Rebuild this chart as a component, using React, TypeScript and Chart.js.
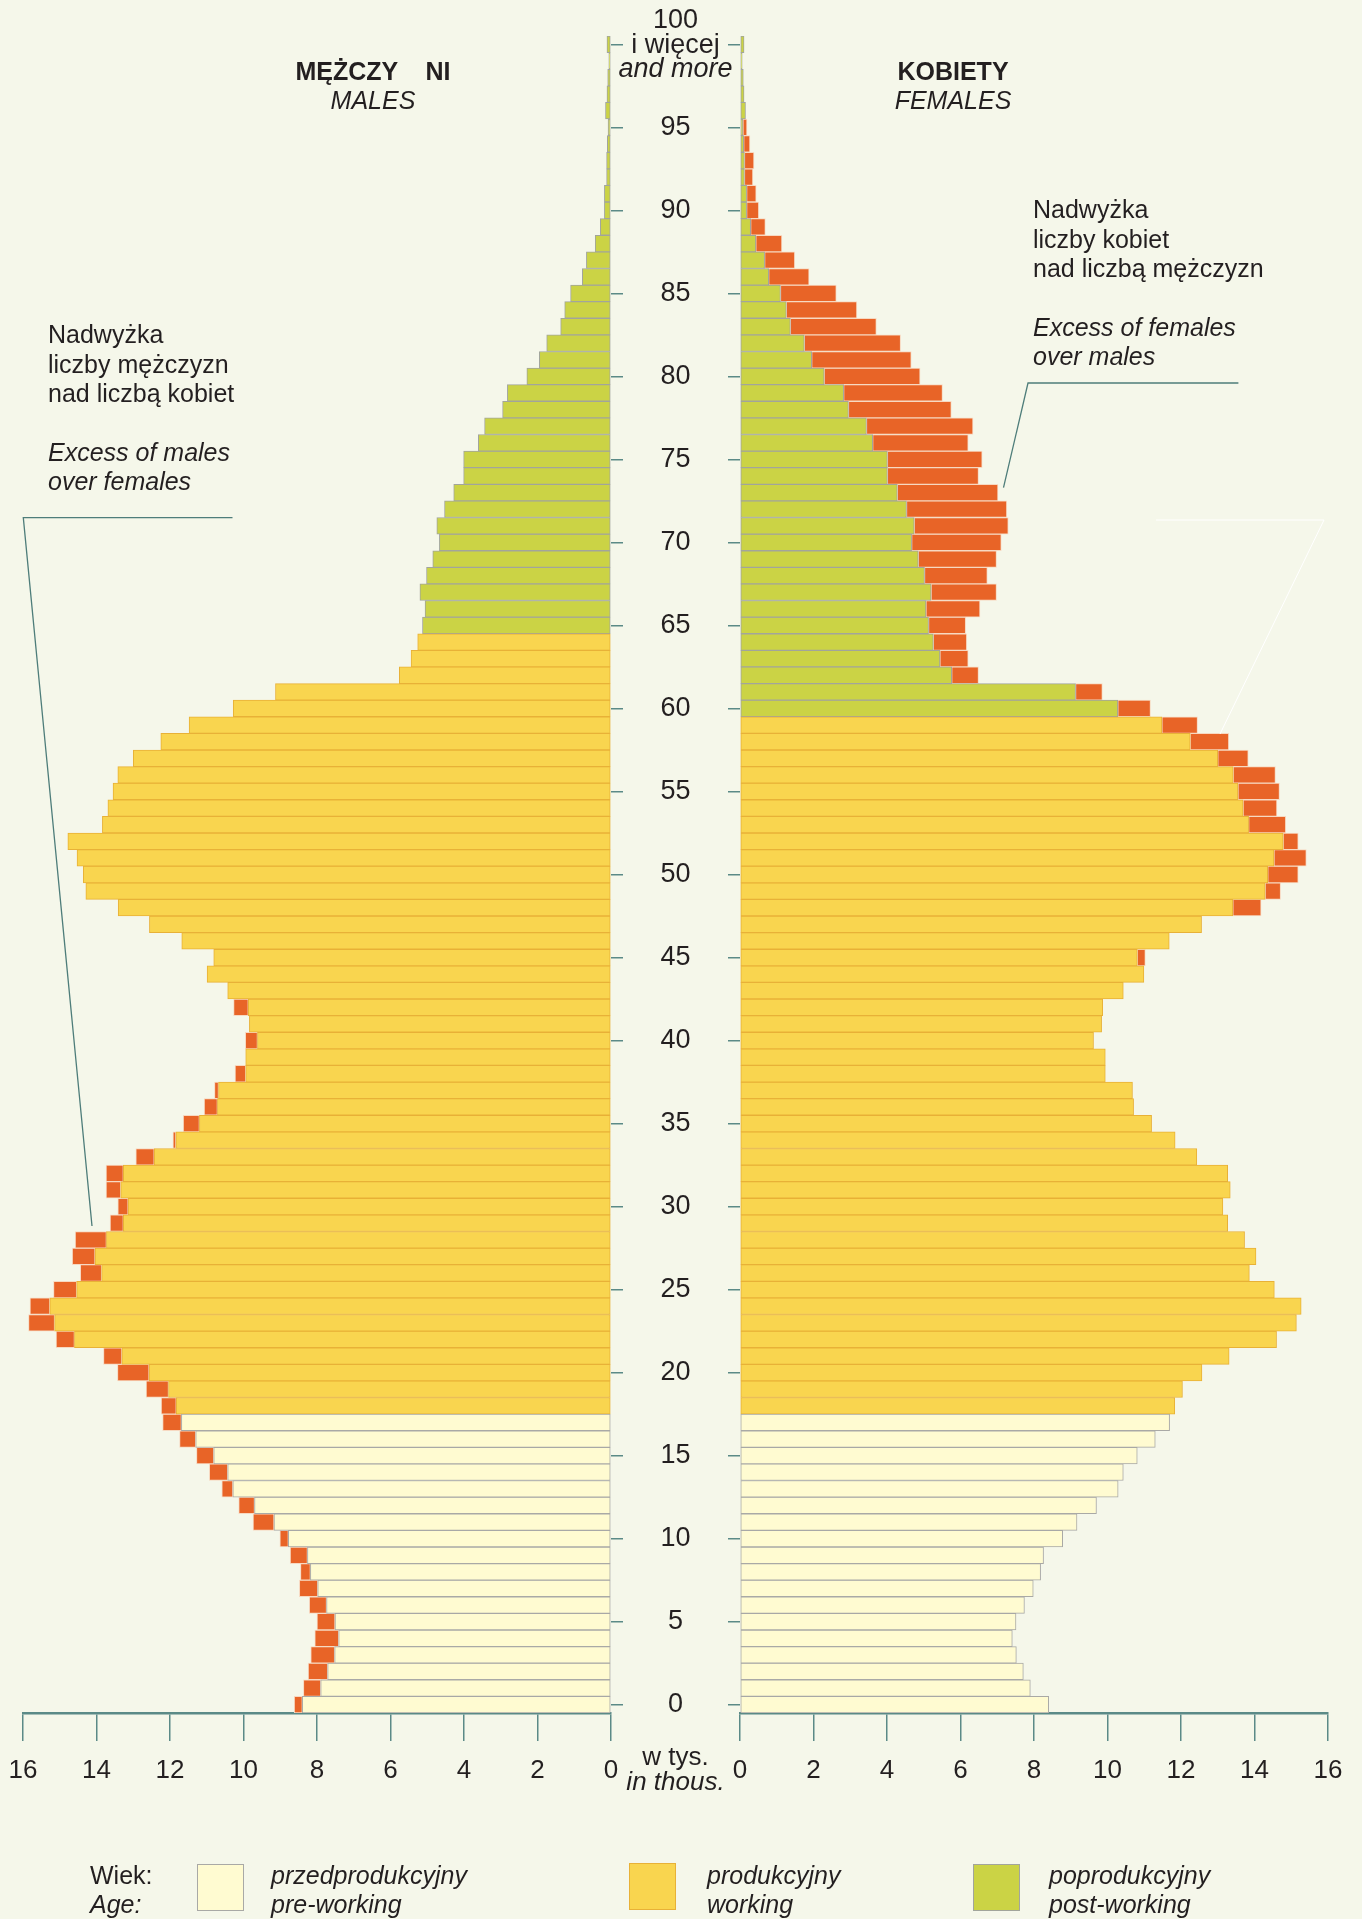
import React, { useEffect, useRef } from 'react';
import { Chart, registerables } from 'chart.js';
Chart.register(...registerables);

// ---------- DATA (thousands of persons) ----------
const ages: number[] = Array.from({ length: 101 }, (_, i) => i);

const males: number[] = [
  8.62, 8.37, 8.24, 8.17, 8.06, 8.00, 8.21, 8.48, 8.45, 8.73,
  9.01, 9.74, 10.13, 10.59, 10.93, 11.28, 11.74, 12.20, 12.24, 12.65,
  13.43, 13.81, 15.10, 15.85, 15.81, 15.17, 14.44, 14.66, 14.58, 13.63,
  13.42, 13.74, 13.74, 12.93, 11.92, 11.64, 11.07, 10.79, 10.23, 9.94,
  9.95, 9.84, 10.27, 10.43, 10.99, 10.81, 11.68, 12.56, 13.41, 14.29,
  14.36, 14.53, 14.78, 13.84, 13.69, 13.55, 13.42, 13.00, 12.25, 11.48,
  10.28, 9.13, 5.76, 5.44, 5.26, 5.13, 5.06, 5.20, 5.02, 4.85,
  4.67, 4.74, 4.53, 4.28, 4.01, 4.01, 3.61, 3.44, 2.95, 2.82,
  2.29, 1.95, 1.75, 1.37, 1.26, 1.10, 0.78, 0.67, 0.43, 0.29,
  0.18, 0.18, 0.12, 0.12, 0.10, 0.08, 0.15, 0.11, 0.09, 0.06,
  0.11,
];

const females: number[] = [
  8.40, 7.90, 7.71, 7.52, 7.41, 7.51, 7.74, 7.98, 8.18, 8.26,
  8.78, 9.17, 9.70, 10.29, 10.43, 10.81, 11.30, 11.69, 11.83, 12.04,
  12.57, 13.31, 14.60, 15.14, 15.27, 14.54, 13.86, 14.04, 13.73, 13.27,
  13.14, 13.34, 13.27, 12.43, 11.84, 11.20, 10.71, 10.68, 9.94, 9.94,
  9.62, 9.84, 9.87, 10.43, 10.99, 11.03, 11.68, 12.56, 14.18, 14.71,
  15.19, 15.41, 15.19, 14.85, 14.61, 14.68, 14.57, 13.83, 13.30, 12.45,
  11.17, 9.86, 6.49, 6.21, 6.17, 6.14, 6.53, 6.98, 6.73, 6.98,
  7.11, 7.30, 7.26, 7.02, 6.49, 6.59, 6.21, 6.34, 5.75, 5.51,
  4.90, 4.66, 4.37, 3.71, 3.18, 2.62, 1.88, 1.49, 1.14, 0.69,
  0.51, 0.44, 0.35, 0.38, 0.27, 0.19, 0.15, 0.11, 0.09, 0.06,
  0.11,
];

const xTickValues: number[] = [0, 2, 4, 6, 8, 10, 12, 14, 16];
const ageTickLabels: number[] = [0, 5, 10, 15, 20, 25, 30, 35, 40, 45, 50, 55, 60, 65, 70, 75, 80, 85, 90, 95];
const PRE_WORKING_LAST = 17;
const MALE_WORKING_LAST = 64;
const FEMALE_WORKING_LAST = 59;

// ---------- STYLE ----------
const FONT = '"Liberation Sans", Arial, Helvetica, sans-serif';
const BG = '#F5F7EA';
const TEXT = '#231F20';
const AXIS = '#5B8A87';
const PRE_FILL = '#FFFBD1';
const PRE_BORDER = '#A9A9A6';
const WORK_FILL = '#F9D54F';
const WORK_BORDER = '#E8B137';
const POST_FILL = '#CBD345';
const POST_BORDER = '#A2A59C';
const EXC_FILL = '#E86427';
const EXC_BORDER = '#F7D9C2';

function buildDatasets(own: number[], other: number[], workLast: number) {
  const base = own.map((v, i) => Math.min(v, other[i]));
  const pre = base.map((v, i) => (i <= PRE_WORKING_LAST ? v : null));
  const work = base.map((v, i) => (i > PRE_WORKING_LAST && i <= workLast ? v : null));
  const post = base.map((v, i) => (i > workLast ? v : null));
  const excess = own.map((v, i) => (v > other[i] ? Math.round((v - other[i]) * 1000) / 1000 : null));
  const common = { borderWidth: 1, borderSkipped: false as const, barPercentage: 1, categoryPercentage: 1 };
  return [
    { label: 'pre', data: pre, backgroundColor: PRE_FILL, borderColor: PRE_BORDER, ...common },
    { label: 'work', data: work, backgroundColor: WORK_FILL, borderColor: WORK_BORDER, ...common },
    { label: 'post', data: post, backgroundColor: POST_FILL, borderColor: POST_BORDER, ...common },
    { label: 'excess', data: excess, backgroundColor: EXC_FILL, borderColor: EXC_BORDER, ...common },
  ];
}

const isFive = (ctx: any) => {
  const idx = ctx && ctx.tick ? ctx.tick.value : ctx.index;
  const a = ages[idx];
  return a !== undefined && a % 5 === 0;
};

function xScale(reverse: boolean) {
  return {
    type: 'linear',
    min: 0,
    max: 16,
    reverse,
    stacked: true,
    afterFit: (s: any) => { s.height = 117; },
    afterBuildTicks: (s: any) => { s.ticks = xTickValues.map((v) => ({ value: v })); },
    ticks: { font: { family: FONT, size: 26 }, color: TEXT, padding: 14, maxRotation: 0, autoSkip: false },
    grid: { drawOnChartArea: false, drawTicks: true, tickLength: 28, color: AXIS, lineWidth: 1.5 },
    border: { display: true, color: AXIS, width: 2.5 },
  };
}

function makeChart(canvas: HTMLCanvasElement, side: 'left' | 'right') {
  const left = side === 'left';
  const datasets = left
    ? buildDatasets(males, females, MALE_WORKING_LAST)
    : buildDatasets(females, males, FEMALE_WORKING_LAST);
  return new Chart(canvas, {
    type: 'bar',
    data: { labels: ages.map(String), datasets: datasets as any },
    options: {
      indexAxis: 'y',
      responsive: false,
      animation: false,
      devicePixelRatio: 1,
      layout: { padding: left ? { top: 36, left: 23, right: 0, bottom: 0 } : { top: 36, left: 0, right: 34, bottom: 0 } },
      plugins: { legend: { display: false }, tooltip: { enabled: false } },
      scales: {
        x: xScale(left) as any,
        y: {
          type: 'category',
          reverse: true,
          stacked: true,
          position: left ? 'right' : 'left',
          offset: true,
          afterFit: (s: any) => {
            s.width = left ? 12 : 129;
            s.paddingTop = 0;
            s.paddingBottom = 0;
          },
          ticks: left
            ? { display: false, autoSkip: false }
            : {
                display: true,
                autoSkip: false,
                crossAlign: 'center',
                padding: 37.5,
                font: { family: FONT, size: 27 },
                color: TEXT,
                callback: (value: any) => {
                  const a = ages[value as number];
                  return ageTickLabels.includes(a) ? String(a) : '';
                },
              },
          grid: {
            offset: false,
            drawOnChartArea: false,
            drawTicks: true,
            tickLength: 12,
            lineWidth: 1.5,
            color: (ctx: any) => (isFive(ctx) ? AXIS : 'rgba(0,0,0,0)'),
          },
          border: { display: false },
        } as any,
      },
    },
  });
}

const Txt = ({ x, y, children, italic, bold, size = 25, align = 'left', lh = 30 }: any) => (
  <div
    style={{
      position: 'absolute',
      left: x,
      top: y - lh / 2,
      transform: align === 'center' ? 'translateX(-50%)' : undefined,
      fontFamily: FONT,
      fontSize: size,
      lineHeight: lh + 'px',
      fontStyle: italic ? 'italic' : 'normal',
      fontWeight: bold ? 700 : 400,
      color: TEXT,
      whiteSpace: 'pre',
    }}
  >
    {children}
  </div>
);

const Swatch = ({ x, y, fill, border }: any) => (
  <div style={{ position: 'absolute', left: x, top: y, width: 45, height: 45, background: fill, border: `1.5px solid ${border}` }} />
);

export default function App() {
  const leftRef = useRef<HTMLCanvasElement>(null);
  const rightRef = useRef<HTMLCanvasElement>(null);

  useEffect(() => {
    document.body.style.margin = '0';
    const c1 = makeChart(leftRef.current as HTMLCanvasElement, 'left');
    const c2 = makeChart(rightRef.current as HTMLCanvasElement, 'right');
    return () => { c1.destroy(); c2.destroy(); };
  }, []);

  const annLh = 29.4;
  return (
    <div style={{ position: 'absolute', left: 0, top: 0, width: 1362, height: 1919, background: BG, overflow: 'hidden' }}>
      <canvas ref={leftRef} width={623} height={1830} style={{ position: 'absolute', left: 0, top: 0, width: 623, height: 1830 }} />
      <canvas ref={rightRef} width={751} height={1830} style={{ position: 'absolute', left: 611, top: 0, width: 751, height: 1830 }} />

      <svg width={1362} height={1919} style={{ position: 'absolute', left: 0, top: 0, pointerEvents: 'none' }}>
        <polyline points="232.5,517.6 23.3,517.6 92,1226" fill="none" stroke="#4E7D7A" strokeWidth={1.3} />
        <polyline points="1238.4,383 1028,383 1003.5,487.7" fill="none" stroke="#4E7D7A" strokeWidth={1.3} />
        <polyline points="1156,520 1324,520 1220,734" fill="none" stroke="#FFFFFF" strokeWidth={1} />
      </svg>

      {/* headers */}
      <Txt x={373} y={71} bold align="center">{'MĘŻCZY    NI'}</Txt>
      <Txt x={373} y={100} italic align="center">MALES</Txt>
      <Txt x={953} y={71} bold align="center">KOBIETY</Txt>
      <Txt x={953} y={100} italic align="center">FEMALES</Txt>

      {/* top age label */}
      <Txt x={675.5} y={19} size={27} align="center">100</Txt>
      <Txt x={675.5} y={44.4} size={27} align="center">i więcej</Txt>
      <Txt x={675.5} y={68} size={27} italic align="center">and more</Txt>

      {/* unit label */}
      <Txt x={675.5} y={1756} size={26} align="center" lh={26}>w tys.</Txt>
      <Txt x={675.5} y={1781} size={26} italic align="center" lh={26}>in thous.</Txt>

      {/* annotations */}
      <Txt x={48} y={335} lh={annLh}>Nadwyżka</Txt>
      <Txt x={48} y={335 + annLh} lh={annLh}>liczby mężczyzn</Txt>
      <Txt x={48} y={335 + 2 * annLh} lh={annLh}>nad liczbą kobiet</Txt>
      <Txt x={48} y={335 + 4 * annLh} lh={annLh} italic>Excess of males</Txt>
      <Txt x={48} y={335 + 5 * annLh} lh={annLh} italic>over females</Txt>

      <Txt x={1033} y={210} lh={annLh}>Nadwyżka</Txt>
      <Txt x={1033} y={210 + annLh} lh={annLh}>liczby kobiet</Txt>
      <Txt x={1033} y={210 + 2 * annLh} lh={annLh}>nad liczbą mężczyzn</Txt>
      <Txt x={1033} y={210 + 4 * annLh} lh={annLh} italic>Excess of females</Txt>
      <Txt x={1033} y={210 + 5 * annLh} lh={annLh} italic>over males</Txt>

      {/* legend */}
      <Txt x={90} y={1875}>Wiek:</Txt>
      <Txt x={90} y={1904} italic>Age:</Txt>
      <Swatch x={197} y={1864} fill={PRE_FILL} border={PRE_BORDER} />
      <Txt x={271} y={1875} italic>przedprodukcyjny</Txt>
      <Txt x={271} y={1904} italic>pre-working</Txt>
      <Swatch x={629} y={1863} fill={WORK_FILL} border={WORK_BORDER} />
      <Txt x={707} y={1875} italic>produkcyjny</Txt>
      <Txt x={707} y={1904} italic>working</Txt>
      <Swatch x={973} y={1864} fill={POST_FILL} border={POST_BORDER} />
      <Txt x={1049} y={1875} italic>poprodukcyjny</Txt>
      <Txt x={1049} y={1904} italic>post-working</Txt>
    </div>
  );
}
